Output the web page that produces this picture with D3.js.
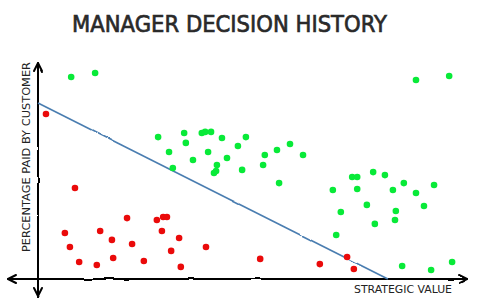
<!DOCTYPE html>
<html>
<head>
<meta charset="utf-8">
<script src="https://cdn.jsdelivr.net/npm/d3@7"></script>
<style>
  body { margin: 0; background: #fff; }
  text { font-family: "DejaVu Sans", sans-serif; fill: #111; }
</style>
</head>
<body>
<div id="chart"></div>
<script>
const W = 479, H = 308;
const margin = {top: 63, right: 21, bottom: 29, left: 38};

// strategic value (x) / percentage paid by customer (y), 0..100
const approvedX = [7.9, 13.6, 90.0, 97.9, 28.6, 34.8, 39.0, 39.8, 41.2, 43.8, 49.5, 35.2, 31.2, 40.5, 47.6,
  36.9, 45.0, 42.6, 41.9, 42.4, 32.1, 48.6, 53.6, 54.0, 56.9, 60.0, 63.1, 57.4, 74.8, 76.0, 79.8, 82.6,
  70.2, 76.0, 87.1, 94.3, 84.5, 90.0, 78.3, 91.9, 72.1, 85.2, 80.2, 85.0, 71.0, 86.7, 93.6, 98.6];
const approvedY = [93.5, 95.4, 92.1, 94.0, 65.7, 67.6, 67.6, 68.1, 68.1, 65.3, 65.7, 63.0, 58.8, 58.8, 61.6,
  55.1, 56.0, 52.8, 49.1, 50.0, 51.4, 50.5, 52.8, 57.4, 59.7, 62.5, 57.4, 44.4, 47.2, 47.2, 49.5, 48.1,
  41.2, 41.7, 44.4, 43.5, 41.2, 39.8, 34.3, 33.8, 31.0, 31.5, 25.5, 27.3, 20.4, 6.0, 4.2, 7.9];

const rejectedX = [1.9, 8.8, 6.4, 7.6, 9.8, 14.0, 14.8, 17.6, 17.9, 21.2, 22.4, 25.2, 28.3, 29.8, 30.7,
  29.5, 33.6, 31.7, 34.0, 40.0, 52.9, 67.1, 73.6, 75.2];
const rejectedY = [76.4, 42.1, 21.3, 14.8, 7.9, 6.5, 22.2, 18.1, 9.7, 28.2, 16.2, 8.3, 27.3, 28.7, 28.7,
  22.2, 19.0, 13.0, 5.6, 14.8, 9.3, 6.9, 10.2, 4.6];

// decision boundary endpoints
const boundaryX = [0, 83.3];
const boundaryY = [81.5, 0];

const titleText = "MANAGER DECISION HISTORY";
const xLabel = "STRATEGIC VALUE";
const yLabel = "PERCENTAGE PAID BY CUSTOMER";

const svg = d3.select("#chart").append("svg")
  .attr("width", W)
  .attr("height", H);

// hand-drawn wobble
const filter = svg.append("defs").append("filter")
  .attr("id", "wobble")
  .attr("filterUnits", "userSpaceOnUse")
  .attr("x", 0).attr("y", 0).attr("width", W).attr("height", H);
filter.append("feTurbulence")
  .attr("type", "fractalNoise")
  .attr("baseFrequency", 0.04)
  .attr("numOctaves", 2)
  .attr("seed", 3)
  .attr("result", "noise");
filter.append("feDisplacementMap")
  .attr("in", "SourceGraphic")
  .attr("in2", "noise")
  .attr("scale", 2.5)
  .attr("xChannelSelector", "R")
  .attr("yChannelSelector", "G");

const x = d3.scaleLinear().domain([0, 100]).range([margin.left, margin.left + 420]);
const y = d3.scaleLinear().domain([0, 100]).range([H - margin.bottom, H - margin.bottom - 216]);

const x0 = x(0), y0 = y(0);

// axes
const axes = svg.append("g")
  .attr("fill", "none")
  .attr("stroke", "#000")
  .attr("stroke-width", 2)
  .attr("stroke-linecap", "round")
  .attr("stroke-linejoin", "round")
  .attr("filter", "url(#wobble)");

const xLeft = x0 - 30, xRight = x0 + 429;
const yTop = y(100), yBottom = y0 + 18;

axes.append("line").attr("x1", xLeft).attr("x2", xRight).attr("y1", y0).attr("y2", y0);
axes.append("line").attr("x1", x0).attr("x2", x0).attr("y1", yTop).attr("y2", yBottom);

const ah = 8, aw = 4;
axes.append("path").attr("d", `M${xRight - ah},${y0 - aw} L${xRight},${y0} L${xRight - ah},${y0 + aw}`);
axes.append("path").attr("d", `M${xLeft + ah},${y0 - aw} L${xLeft},${y0} L${xLeft + ah},${y0 + aw}`);
axes.append("path").attr("d", `M${x0 - aw},${yTop + ah} L${x0},${yTop} L${x0 + aw},${yTop + ah}`);
axes.append("path").attr("d", `M${x0 - aw},${yBottom - ah} L${x0},${yBottom} L${x0 + aw},${yBottom - ah}`);

// decision boundary
const boundary = boundaryX.map((v, i) => [v, boundaryY[i]]);
svg.append("path")
  .datum(boundary)
  .attr("fill", "none")
  .attr("stroke", "#4a7db0")
  .attr("stroke-width", 1.6)
  .attr("filter", "url(#wobble)")
  .attr("d", d3.line().x(d => x(d[0])).y(d => y(d[1])));

// points
svg.append("g").selectAll("circle")
  .data(approvedX.map((v, i) => [v, approvedY[i]]))
  .join("circle")
  .attr("cx", d => x(d[0]))
  .attr("cy", d => y(d[1]))
  .attr("r", 3.3)
  .attr("fill", "#08ea38");

svg.append("g").selectAll("circle")
  .data(rejectedX.map((v, i) => [v, rejectedY[i]]))
  .join("circle")
  .attr("cx", d => x(d[0]))
  .attr("cy", d => y(d[1]))
  .attr("r", 3.3)
  .attr("fill", "#ea0a0a");

// labels
svg.append("text")
  .attr("x", 72).attr("y", 32)
  .attr("textLength", 315)
  .attr("lengthAdjust", "spacingAndGlyphs")
  .style("font-size", "23px")
  .style("fill", "#2a2a2a")
  .style("stroke", "#2a2a2a")
  .style("stroke-width", 0.7)
  .text(titleText);

svg.append("text")
  .attr("x", 354).attr("y", 293)
  .attr("textLength", 98)
  .attr("lengthAdjust", "spacingAndGlyphs")
  .style("font-size", "10px")
  .style("fill", "#222")
  .text(xLabel);

svg.append("text")
  .attr("transform", `translate(30,252)rotate(-90)`)
  .attr("textLength", 190)
  .attr("lengthAdjust", "spacingAndGlyphs")
  .style("font-size", "10px")
  .style("fill", "#222")
  .text(yLabel);
</script>
</body>
</html>
